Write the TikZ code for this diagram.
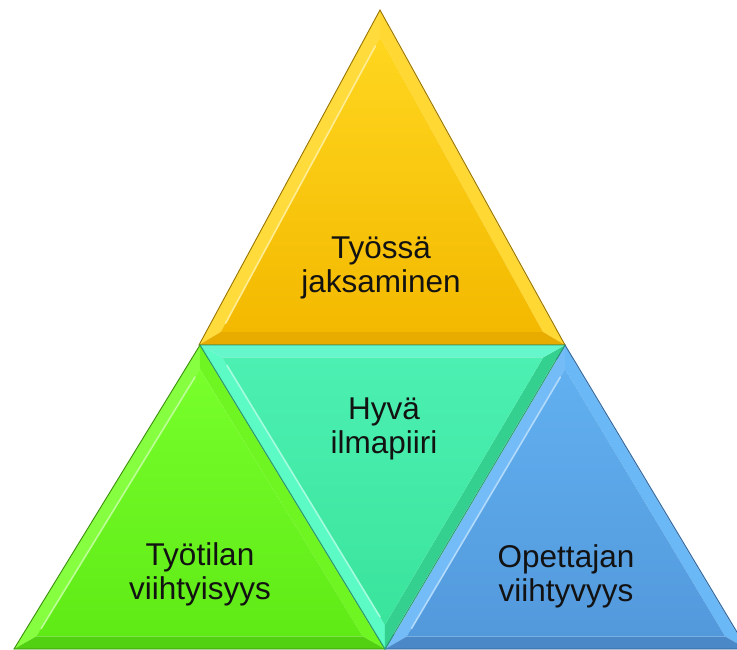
\documentclass[tikz,border=0pt]{standalone}
\usepackage{fontspec}
\setmainfont{Liberation Sans}
\usetikzlibrary{calc}

% base colours of the four pyramid pieces
\definecolor{yelA}{HTML}{FFD61F}
\definecolor{yelB}{HTML}{F3B900}
\definecolor{yelL}{HTML}{FFDC3C}
\definecolor{yelR}{HTML}{FFD833}
\definecolor{yelD}{HTML}{E8AC00}
\definecolor{yelE}{HTML}{9A7400}

\definecolor{grnA}{HTML}{78FF2C}
\definecolor{grnB}{HTML}{5FEA16}
\definecolor{grnL}{HTML}{86FF40}
\definecolor{grnR}{HTML}{6FF522}
\definecolor{grnD}{HTML}{52D012}
\definecolor{grnE}{HTML}{3A8F0C}

\definecolor{tlA}{HTML}{4CF0B2}
\definecolor{tlB}{HTML}{3AE49C}
\definecolor{tlL}{HTML}{5CFAC4}
\definecolor{tlR}{HTML}{34D090}
\definecolor{tlD}{HTML}{66F6CC}
\definecolor{tlE}{HTML}{2A9A70}

\definecolor{bluA}{HTML}{62B0F0}
\definecolor{bluB}{HTML}{5299DC}
\definecolor{bluL}{HTML}{74BCF8}
\definecolor{bluR}{HTML}{6AB8F5}
\definecolor{bluD}{HTML}{4A88C8}
\definecolor{bluE}{HTML}{35669A}

\tikzset{
  label text/.style={font=\fontsize{31.5}{34}\selectfont, text=black!93, align=center, inner sep=0pt},
  edge line/.style={line width=0.9pt, line join=miter},
}

% bevelled triangle: #1 prefix of corner names (A, B, C, incenter I),
% #2 colour prefix, #3 facet colour for AB, #4 for AC, #5 for BC
\newcommand\bevtri[5]{%
  \coordinate (#1a) at ($(#1A)!0.12!(#1I)$);
  \coordinate (#1b) at ($(#1B)!0.12!(#1I)$);
  \coordinate (#1c) at ($(#1C)!0.12!(#1I)$);
  \fill[#3] (#1A) -- (#1B) -- (#1b) -- (#1a) -- cycle;
  \fill[#4] (#1A) -- (#1C) -- (#1c) -- (#1a) -- cycle;
  \fill[#5] (#1B) -- (#1C) -- (#1c) -- (#1b) -- cycle;
  \shade[top color=#2A, bottom color=#2B] (#1a) -- (#1b) -- (#1c) -- cycle;
  \draw[#2L!55!white, line width=1.6pt, line cap=round] ($(#1a)!0.03!(#1b)$) -- ($(#1a)!0.97!(#1b)$);
  \draw[#2L!50!white, line width=1.2pt, line cap=round] ($(#1A)!0.05!(#1C)$) -- ($(#1A)!0.95!(#1C)$);
  \draw[#2E, edge line] (#1A) -- (#1B) -- (#1C) -- cycle;
}

\begin{document}
\begin{tikzpicture}[x=1pt, y=-1pt]
  \useasboundingbox (0,0) rectangle (737,650);
  \clip (0,0) rectangle (737,650);

  % top piece
  \coordinate (tA) at (380,10);
  \coordinate (tB) at (199,345);
  \coordinate (tC) at (565,345);
  \coordinate (tI) at (381,236.4);
  \bevtri{t}{yel}{yelL}{yelR}{yelD}

  % lower left piece
  \coordinate (lA) at (200,345);
  \coordinate (lB) at (14,649);
  \coordinate (lC) at (385,649);
  \coordinate (lI) at (199.8,544.5);
  \bevtri{l}{grn}{grnL}{grnR}{grnD}

  % lower right piece
  \coordinate (rA) at (565,345);
  \coordinate (rB) at (385,649);
  \coordinate (rC) at (747,649);
  \coordinate (rI) at (565.5,545.5);
  \bevtri{r}{blu}{bluL}{bluR}{bluD}

  % centre piece, pointing down
  \coordinate (mA) at (385,649);
  \coordinate (mB) at (200,345);
  \coordinate (mC) at (565,345);
  \coordinate (mI) at (383.8,448.1);
  \bevtri{m}{tl}{tlL}{tlR}{tlD}

  % labels
  \node[label text] (top)   at (381,268) {Työssä\\jaksaminen};
  \node[label text] (mid)   at (384,429) {Hyvä\\ilmapiiri};
  \node[label text] (left)  at (200,574) {Työtilan\\viihtyisyys};
  \node[label text] (right) at (566,576) {Opettajan\\viihtyvyys};
\end{tikzpicture}
\end{document}
